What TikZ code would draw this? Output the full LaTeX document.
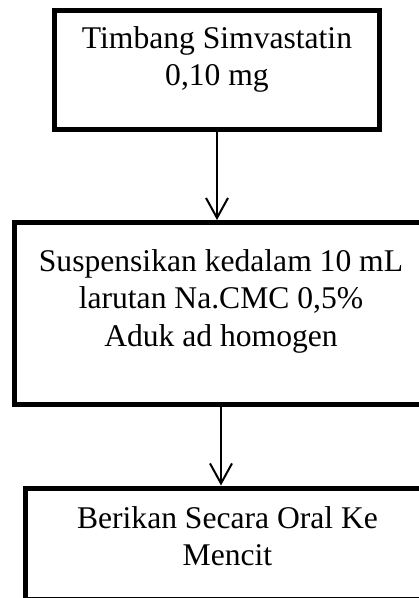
\documentclass[tikz,border=0pt]{standalone}
\usepackage{fontspec}
\setmainfont{Liberation Serif}
\usetikzlibrary{arrows.meta}
\begin{document}
\begin{tikzpicture}[x=1pt,y=-1pt,
  stepbox/.style={draw=black, line width=5pt, rectangle, inner sep=0pt},
  steptext/.style={anchor=north, inner sep=0pt, align=center,
    font=\fontsize{31.6pt}{37.2pt}\selectfont},
  flow/.style={draw=black, line width=2pt,
    -{Straight Barb[length=20pt, width=22pt, line width=2pt]}}]
  \useasboundingbox (0,0) rectangle (419,598);
  \clip (0,0) rectangle (419,598);

  % boxes
  \node[stepbox, minimum width=325pt, minimum height=119.5pt] (b1) at (217,69.75) {};
  \node[stepbox, minimum width=414pt, minimum height=182pt] (b2) at (221,313.5) {};
  \node[stepbox, minimum width=404pt, minimum height=111.5pt] (b3) at (227.5,543.75) {};

  % texts
  \node[steptext] (t1) at (217,26) {Timbang Simvastatin\\0,10 mg};
  \node[steptext] (t2) at (221,249.5) {Suspensikan kedalam 10 mL\\larutan Na.CMC 0,5\%\\Aduk ad homogen};
  \node[steptext] (t3) at (227.5,506) {Berikan Secara Oral Ke\\Mencit};

  % connectors
  \draw[flow] (b1.south) -- (b1.south |- b2.north);
  \draw[flow] (t2.south |- b2.south) -- (t2.south |- b3.north);
\end{tikzpicture}
\end{document}
